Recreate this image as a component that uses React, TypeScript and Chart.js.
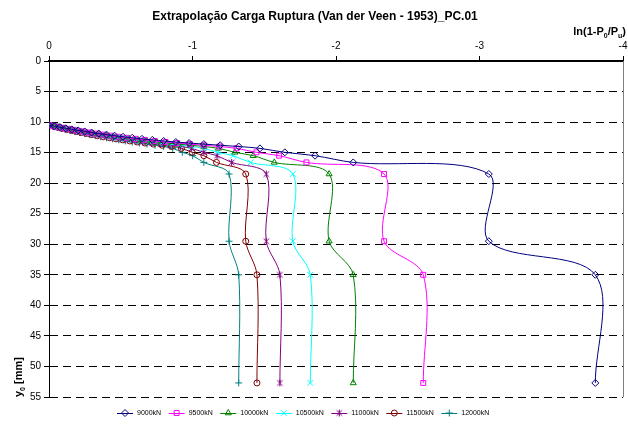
import React, { useEffect, useRef } from 'react';
import { Chart, registerables } from 'chart.js';

Chart.register(...registerables);

// Settlement y0 [mm] (shared by every series)
const yValues = [10.5, 10.67, 10.84, 11.02, 11.19, 11.36, 11.53, 11.71, 11.88, 12.05, 12.22, 12.4, 12.57, 12.74, 12.91, 13.09, 13.26, 13.43, 13.6, 13.79, 14.0, 14.3, 14.95, 15.5, 16.6, 18.5, 29.5, 35.0, 52.7];

// ln(1-P0/Pu) for each assumed rupture load
const x9000 = [0, -0.037, -0.076, -0.117, -0.159, -0.203, -0.249, -0.297, -0.347, -0.401, -0.457, -0.516, -0.58, -0.648, -0.72, -0.799, -0.884, -0.976, -1.079, -1.193, -1.322, -1.47, -1.643, -1.854, -2.12, -3.065, -3.065, -3.807, -3.807];
const x9500 = [0, -0.035, -0.072, -0.11, -0.15, -0.191, -0.234, -0.279, -0.326, -0.375, -0.427, -0.482, -0.539, -0.601, -0.666, -0.736, -0.812, -0.893, -0.982, -1.079, -1.187, -1.307, -1.445, -1.604, -1.794, -2.335, -2.335, -2.608, -2.608];
const x10000 = [0, -0.034, -0.068, -0.104, -0.142, -0.18, -0.221, -0.263, -0.307, -0.352, -0.401, -0.451, -0.504, -0.56, -0.62, -0.683, -0.751, -0.823, -0.901, -0.986, -1.079, -1.181, -1.295, -1.423, -1.57, -1.952, -1.952, -2.12, -2.12];
const x10500 = [0, -0.032, -0.065, -0.099, -0.134, -0.171, -0.209, -0.249, -0.29, -0.333, -0.377, -0.424, -0.473, -0.525, -0.58, -0.638, -0.699, -0.764, -0.834, -0.909, -0.99, -1.079, -1.176, -1.283, -1.404, -1.699, -1.699, -1.821, -1.821];
const x11000 = [0, -0.03, -0.062, -0.094, -0.128, -0.163, -0.198, -0.236, -0.274, -0.315, -0.357, -0.401, -0.446, -0.494, -0.545, -0.598, -0.654, -0.713, -0.777, -0.844, -0.916, -0.994, -1.079, -1.171, -1.273, -1.514, -1.514, -1.609, -1.609];
const x11500 = [0, -0.029, -0.059, -0.09, -0.122, -0.155, -0.189, -0.224, -0.261, -0.299, -0.338, -0.379, -0.422, -0.467, -0.514, -0.563, -0.615, -0.669, -0.727, -0.788, -0.853, -0.923, -0.998, -1.079, -1.167, -1.371, -1.371, -1.449, -1.449];
const x12000 = [0, -0.028, -0.057, -0.086, -0.117, -0.148, -0.18, -0.214, -0.249, -0.284, -0.322, -0.36, -0.401, -0.442, -0.486, -0.532, -0.58, -0.63, -0.683, -0.739, -0.799, -0.862, -0.929, -1.001, -1.079, -1.255, -1.255, -1.322, -1.322];

const seriesLabels = ['9000kN', '9500kN', '10000kN', '10500kN', '11000kN', '11500kN', '12000kN'];
const seriesX = [x9000, x9500, x10000, x10500, x11000, x11500, x12000];
const xTickLabels = ['0', '-1', '-2', '-3', '-4'];
const yTickLabels = ['0', '5', '10', '15', '20', '25', '30', '35', '40', '45', '50', '55'];

const titleText = 'Extrapolação Carga Ruptura (Van der Veen - 1953)_PC.01';

const colors = ['#000080', '#FF00FF', '#008000', '#00FFFF', '#800080', '#800000', '#008080'];
const styles = ['rectRot', 'rect', 'triangle', 'crossRot', 'star', 'circle', 'cross'];
const radii = [3.5, 3.5, 3.5, 4, 3.5, 3, 3.5];

const FONT = '"Liberation Sans", Arial, Helvetica, sans-serif';

function makeStar(color: string, r: number): HTMLCanvasElement {
  const s = Math.ceil(r * 2 + 2);
  const c = document.createElement('canvas');
  c.width = s;
  c.height = s;
  const g = c.getContext('2d')!;
  g.strokeStyle = color;
  g.lineWidth = 1;
  const m = s / 2;
  const d = r * 0.8;
  g.beginPath();
  g.moveTo(m - d, m - d); g.lineTo(m + d, m + d);
  g.moveTo(m + d, m - d); g.lineTo(m - d, m + d);
  g.moveTo(m, m - r); g.lineTo(m, m + r);
  g.stroke();
  return c;
}

function drawMarker(ctx: CanvasRenderingContext2D, style: any, x: number, y: number, r: number, color: string) {
  if (typeof style !== 'string') {
    ctx.drawImage(style, x - style.width / 2, y - style.height / 2);
    return;
  }
  ctx.save();
  ctx.strokeStyle = color;
  ctx.lineWidth = 1;
  ctx.beginPath();
  switch (style) {
    case 'rectRot':
      ctx.moveTo(x, y - r); ctx.lineTo(x + r, y); ctx.lineTo(x, y + r); ctx.lineTo(x - r, y); ctx.closePath();
      break;
    case 'rect': {
      const s = r * Math.SQRT1_2;
      ctx.rect(x - s, y - s, 2 * s, 2 * s);
      break;
    }
    case 'triangle': {
      const a = (2 * Math.PI) / 3;
      ctx.moveTo(x, y - r);
      ctx.lineTo(x + r * Math.sin(a), y - r * Math.cos(a));
      ctx.lineTo(x + r * Math.sin(2 * a), y - r * Math.cos(2 * a));
      ctx.closePath();
      break;
    }
    case 'crossRot': {
      const s = r * Math.SQRT1_2;
      ctx.moveTo(x - s, y - s); ctx.lineTo(x + s, y + s);
      ctx.moveTo(x + s, y - s); ctx.lineTo(x - s, y + s);
      break;
    }
    case 'circle':
      ctx.arc(x, y, r, 0, Math.PI * 2);
      break;
    case 'cross':
      ctx.moveTo(x, y - r); ctx.lineTo(x, y + r);
      ctx.moveTo(x - r, y); ctx.lineTo(x + r, y);
      break;
  }
  ctx.stroke();
  ctx.restore();
}

function drawRich(ctx: CanvasRenderingContext2D, parts: { t: string; sub: boolean }[], x: number, y: number, size: number) {
  let cx = x;
  for (const p of parts) {
    ctx.font = `bold ${p.sub ? Math.round(size * 0.65) : size}px ${FONT}`;
    ctx.fillText(p.t, cx, p.sub ? y + size * 0.3 : y);
    cx += ctx.measureText(p.t).width;
  }
  return cx - x;
}

function measureRich(ctx: CanvasRenderingContext2D, parts: { t: string; sub: boolean }[], size: number) {
  let w = 0;
  for (const p of parts) {
    ctx.font = `bold ${p.sub ? Math.round(size * 0.65) : size}px ${FONT}`;
    w += ctx.measureText(p.t).width;
  }
  return w;
}

const decorPlugin = {
  id: 'decor',
  afterDraw(chart: any) {
    const { ctx, chartArea } = chart;
    ctx.save();
    // plot area right border
    ctx.strokeStyle = '#808080';
    ctx.lineWidth = 1;
    ctx.beginPath();
    ctx.moveTo(Math.round(chartArea.right) + 0.5, chartArea.top);
    ctx.lineTo(Math.round(chartArea.right) + 0.5, chartArea.bottom);
    ctx.stroke();

    ctx.fillStyle = '#000';
    // title
    ctx.font = `bold 12px ${FONT}`;
    ctx.textAlign = 'center';
    ctx.textBaseline = 'middle';
    ctx.fillText(titleText, 315, 17);

    // x axis title
    ctx.textAlign = 'left';
    ctx.textBaseline = 'alphabetic';
    const xParts = [
      { t: 'ln(1-P', sub: false },
      { t: '0', sub: true },
      { t: '/P', sub: false },
      { t: 'u', sub: true },
      { t: ')', sub: false },
    ];
    const xw = measureRich(ctx, xParts, 11);
    drawRich(ctx, xParts, 626 - xw, 35, 11);

    // y axis title
    ctx.save();
    ctx.translate(22, 397);
    ctx.rotate(-Math.PI / 2);
    const yParts = [
      { t: 'y', sub: false },
      { t: '0', sub: true },
      { t: ' [mm]', sub: false },
    ];
    drawRich(ctx, yParts, 0, 0, 11);
    ctx.restore();

    // legend
    const ly = 413;
    let cx = 125;
    chart.data.datasets.forEach((ds: any) => {
      ctx.strokeStyle = ds.borderColor;
      ctx.lineWidth = 1;
      ctx.beginPath();
      ctx.moveTo(cx - 8, ly + 0.5);
      ctx.lineTo(cx + 8, ly + 0.5);
      ctx.stroke();
      drawMarker(ctx, ds.pointStyle, cx, ly, ds.pointRadius, ds.borderColor);
      ctx.fillStyle = '#000';
      ctx.font = `7px ${FONT}`;
      ctx.textAlign = 'left';
      ctx.textBaseline = 'middle';
      ctx.fillText(ds.label, cx + 12, ly);
      const w = ctx.measureText(ds.label).width;
      cx = cx + 12 + w + 15.5;
    });
    ctx.restore();
  },
};

export default function App() {
  const canvasRef = useRef<HTMLCanvasElement | null>(null);

  useEffect(() => {
    document.body.style.margin = '0';
    const canvas = canvasRef.current;
    if (!canvas) return;
    const pointStyles: any[] = styles.map((s, i) => (s === 'star' ? makeStar(colors[i], radii[i]) : s));
    const datasets = seriesLabels.map((label, i) => ({
      label,
      data: yValues.map((y, j) => ({ x: seriesX[i][j], y })),
      showLine: true,
      borderColor: colors[i],
      backgroundColor: 'rgba(0,0,0,0)',
      borderWidth: 1,
      tension: 0.33,
      pointStyle: pointStyles[i],
      pointRadius: radii[i],
      pointHoverRadius: radii[i],
      pointBorderColor: colors[i],
      pointBackgroundColor: 'rgba(255,255,255,0)',
      pointBorderWidth: 1,
    }));

    const chart = new Chart(canvas, {
      type: 'scatter',
      data: { datasets },
      options: {
        animation: false,
        responsive: true,
        maintainAspectRatio: false,
        layout: { padding: { left: 0, right: 4, top: 0, bottom: 35 } },
        plugins: {
          legend: { display: false },
          title: { display: false },
          tooltip: { enabled: false },
        },
        scales: {
          x: {
            type: 'linear',
            position: 'top',
            min: -4,
            max: 0,
            reverse: true,
            ticks: {
              stepSize: 1,
              color: '#000',
              font: { size: 10, family: FONT },
              padding: 4,
              maxRotation: 0,
              callback: (v: any) => xTickLabels[Math.round(-Number(v))] ?? String(v),
            },
            grid: { drawOnChartArea: false, drawTicks: true, tickLength: 5, color: '#000', tickColor: '#000' },
            border: { display: true, color: '#000', width: 2 },
            afterFit: (scale: any) => {
              scale.height = 61;
              scale.paddingLeft = 0;
              scale.paddingRight = 0;
            },
          },
          y: {
            type: 'linear',
            position: 'left',
            min: 0,
            max: 55,
            reverse: true,
            ticks: {
              stepSize: 5,
              color: '#000',
              font: { size: 10, family: FONT },
              padding: 3,
              callback: (v: any) => yTickLabels[Math.round(Number(v) / 5)] ?? String(v),
            },
            grid: { drawOnChartArea: true, drawTicks: true, tickLength: 5, color: '#000', lineWidth: 1, tickColor: '#000' },
            border: { display: true, color: '#000', width: 1, dash: [8, 5] },
            afterFit: (scale: any) => {
              scale.width = 49;
              scale.paddingTop = 0;
              scale.paddingBottom = 0;
            },
          },
        },
      },
      plugins: [decorPlugin],
    } as any);

    return () => {
      chart.destroy();
    };
  }, []);

  return (
    <div style={{ position: 'relative', width: 628, height: 432, background: '#fff' }}>
      <canvas ref={canvasRef} />
    </div>
  );
}
